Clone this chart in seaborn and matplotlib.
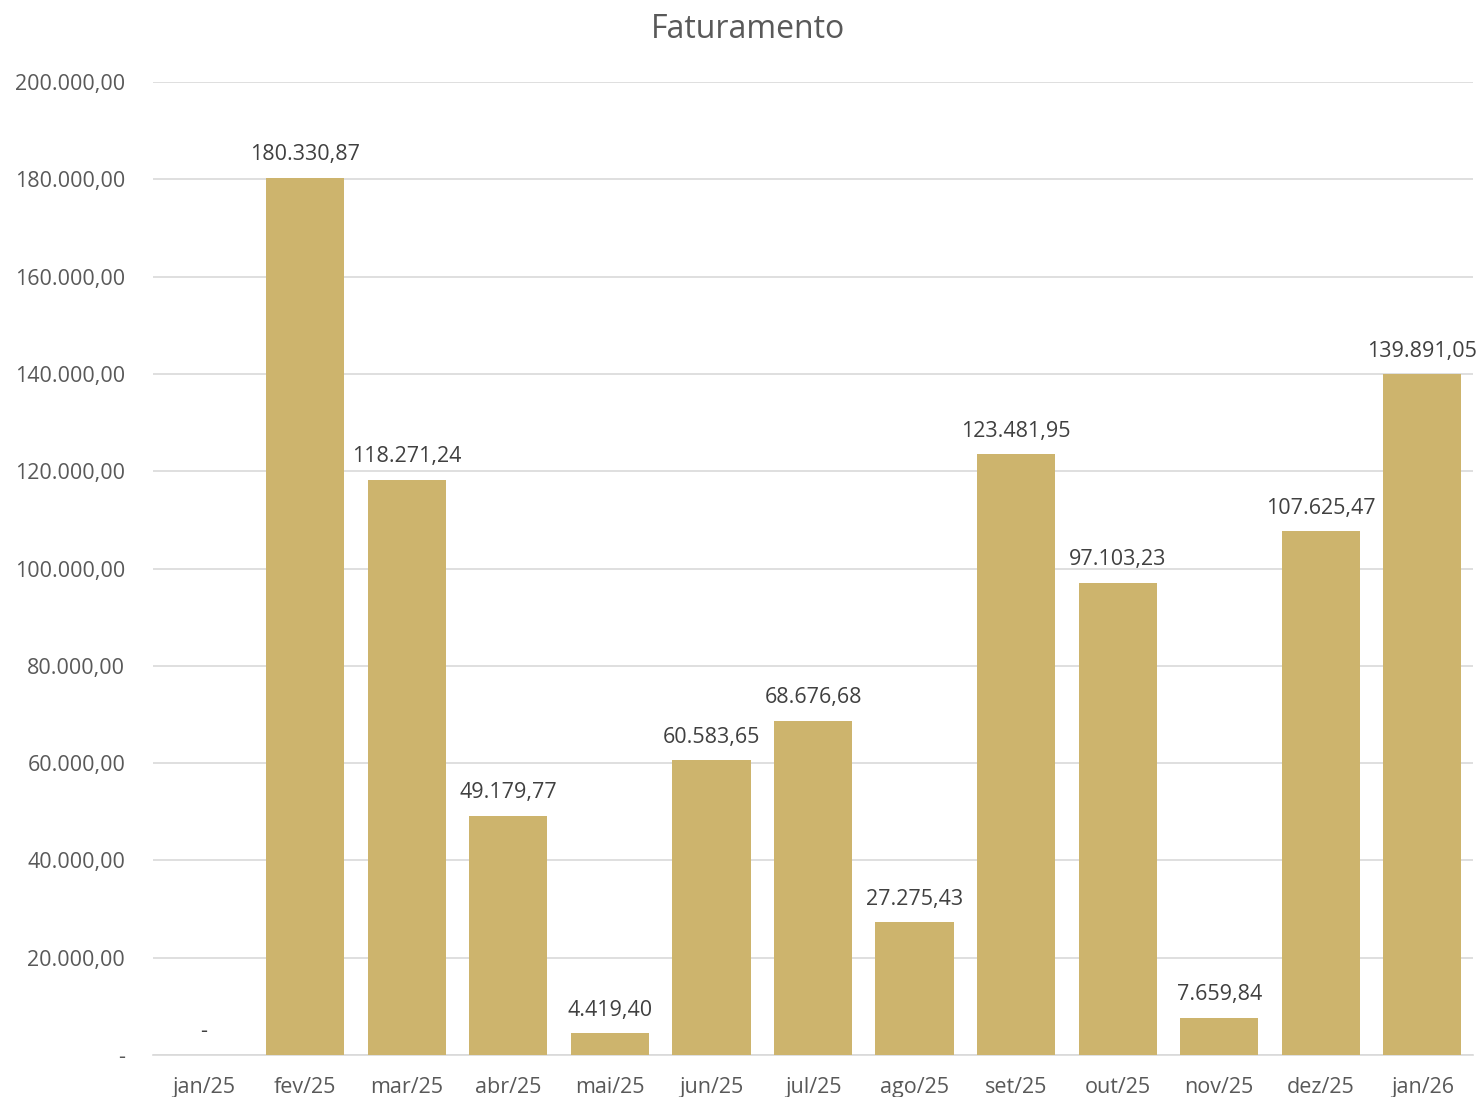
import matplotlib
matplotlib.use("Agg")
import matplotlib.pyplot as plt
import seaborn as sns
import pandas as pd
from matplotlib.ticker import FuncFormatter

months = ["jan/25", "fev/25", "mar/25", "abr/25", "mai/25", "jun/25", "jul/25",
          "ago/25", "set/25", "out/25", "nov/25", "dez/25", "jan/26"]
faturamento = [0.0, 180330.87, 118271.24, 49179.77, 4419.40, 60583.65, 68676.68,
               27275.43, 123481.95, 97103.23, 7659.84, 107625.47, 139891.05]
yticks = [0, 20000, 40000, 60000, 80000, 100000, 120000, 140000, 160000, 180000, 200000]

def br(v):
    if v == 0:
        return "-"
    s = f"{v:,.2f}"
    return s.replace(",", "X").replace(".", ",").replace("X", ".")

sns.set_theme(style="white")
plt.rcParams['font.family'] = ['Open Sans', 'DejaVu Sans']

df = pd.DataFrame({"mes": months, "valor": faturamento})

fig = plt.figure(figsize=(14.81, 10.97), dpi=100)
ax = fig.add_axes([153/1481, 1 - 1055/1097, 1320/1481, (1055 - 82)/1097])

sns.barplot(data=df, x="mes", y="valor", color="#CDB46D", saturation=1,
            width=0.77, ax=ax, zorder=3, linewidth=0, edgecolor="none")

ax.set_ylim(0, 200000)
ax.set_xlim(-0.5, len(months) - 0.5)
ax.set_yticks(yticks)
ax.yaxis.set_major_formatter(FuncFormatter(lambda v, p: br(v)))
ax.grid(axis="y", color="#D9D9D9", linewidth=1.2, zorder=0)
ax.grid(axis="x", visible=False)
for s in ["top", "right", "left"]:
    ax.spines[s].set_visible(False)
ax.spines["bottom"].set_color("#D9D9D9")
ax.spines["bottom"].set_linewidth(1.2)
ax.tick_params(axis="both", length=0, labelsize=15.5, colors="#595959")
ax.tick_params(axis="y", pad=20)
ax.tick_params(axis="x", pad=16)
ax.set_xlabel("")
ax.set_ylabel("")

for i, v in enumerate(faturamento):
    ax.annotate(br(v), (i, v), xytext=(0, 9), textcoords="offset points",
                ha="center", va="bottom", fontsize=15.5, color="#404040")

fig.text(748/1481, 1 - 30/1097, "Faturamento", ha="center", va="center",
         fontsize=23, color="#595959")

fig.savefig("out.png", dpi=100)
